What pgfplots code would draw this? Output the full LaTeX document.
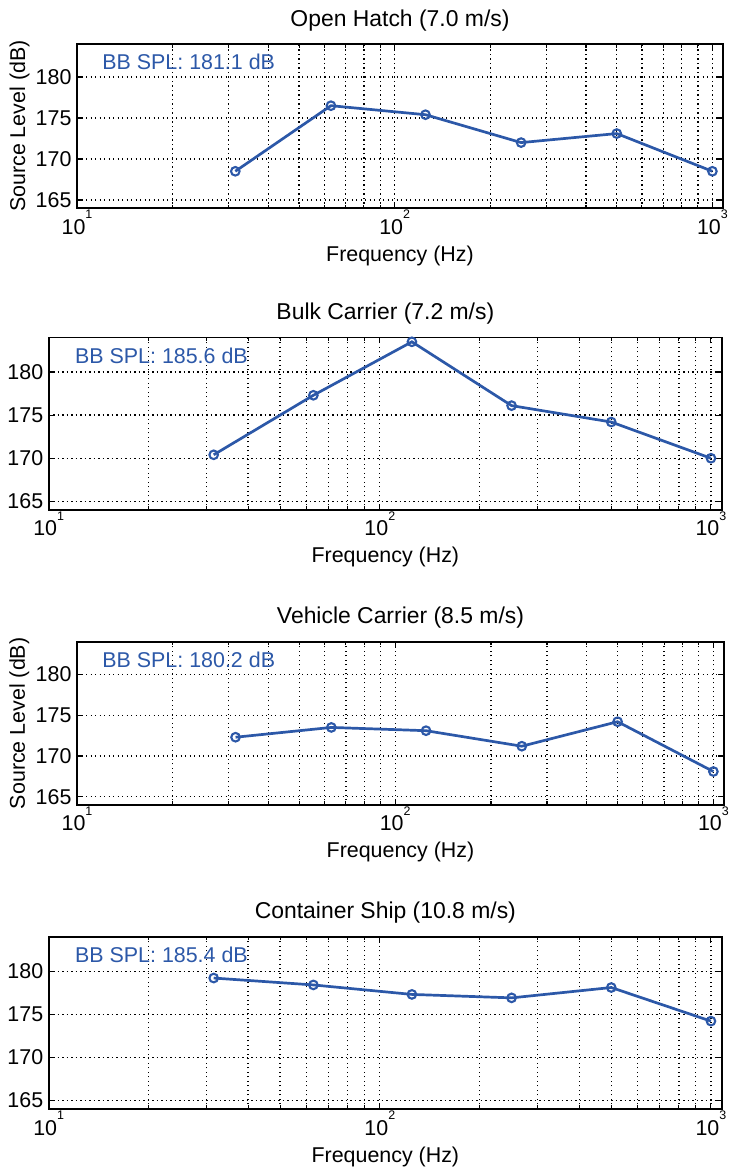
\documentclass[border=0pt]{standalone}
\usepackage{fontspec}
\setmainfont{Liberation Sans}
\usepackage{pgfplots}
\pgfplotsset{compat=1.18}

\definecolor{lineblue}{RGB}{44,88,168}
% decade tick labels: 10 with a raised exponent
\newcommand\dec[1]{10\raisebox{15.5bp}{\fontsize{12.5}{12.5}\selectfont #1}}

\tikzset{
  spl line/.style={lineblue, line width=2.7bp, mark=o, mark size=4.3bp,
    mark options={line width=2.1bp, solid}},
  spl note/.style={anchor=west, inner sep=0pt, text=lineblue, font=\fontsize{21.5}{24}\selectfont},
}

% settings shared by all four panels
\pgfplotsset{
  scale only axis,
  xmin=10, xmax=1080, ymin=164, ymax=184,
  xtick={10,100,1000},
  xticklabels={\dec{1},\dec{2},\dec{3}},
  minor xtick={20,30,40,50,60,70,80,90,200,300,400,500,600,700,800,900},
  ytick={165,170,175,180},
  yticklabels={165,170,175,180},
  tick align=inside, xtick pos=both, ytick pos=both,
  major tick length=6bp, minor tick length=3.5bp,
  every tick/.append style={black, line width=1.1bp},
  axis line style={black, line width=1.7bp},
  xmajorgrids, xminorgrids, ymajorgrids,
  major grid style={black, line width=1.3bp, dash pattern=on 1.3bp off 3.2bp},
  minor grid style={black, line width=1.3bp, dash pattern=on 1.3bp off 3.2bp},
  tick label style={font=\fontsize{21.5}{24}\selectfont},
  label style={font=\fontsize{21.5}{24}\selectfont},
  title style={font=\fontsize{23}{26}\selectfont, at={(axis description cs:0.5,1)}, anchor=base, yshift=12bp},
  xlabel style={at={(axis description cs:0.5,0)}, anchor=base, yshift=-53bp},
  xticklabel style={anchor=base, yshift=-26bp},
  yticklabel style={anchor=east, xshift=-2bp},
  ylabel style={at={(axis description cs:-0.089,0.5)}, anchor=center},
}

\begin{document}
\begin{tikzpicture}
\useasboundingbox (0,0) rectangle (731bp,1170bp);

% Open Hatch
\begin{semilogxaxis}[anchor=south west, at={(77bp,961.8bp)}, width=646bp, height=164bp,
  title={Open Hatch (7.0 m/s)}, xlabel={Frequency (Hz)}, ylabel={Source Level (dB)}]
\addplot[spl line] table {
f L
31.5 168.5
63 176.5
125 175.4
250 172.0
500 173.1
1000 168.5
};
\node[spl note] at (axis cs:12,181.8) {BB SPL: 181.1 dB};
\end{semilogxaxis}

% Bulk Carrier
\begin{semilogxaxis}[anchor=south west, at={(48.7bp,660bp)}, width=673.3bp, height=172.5bp,
  title={Bulk Carrier (7.2 m/s)}, xlabel={Frequency (Hz)}]
\addplot[spl line] table {
f L
31.5 170.4
63 177.3
125 183.5
250 176.1
500 174.2
1000 170.0
};
\node[spl note] at (axis cs:12,181.9) {BB SPL: 185.6 dB};
\end{semilogxaxis}

% Vehicle Carrier
\begin{semilogxaxis}[anchor=south west, at={(77bp,365bp)}, width=647bp, height=163.3bp,
  title={Vehicle Carrier (8.5 m/s)}, xlabel={Frequency (Hz)}, ylabel={Source Level (dB)}]
\addplot[spl line] table {
f L
31.5 172.3
63 173.5
125 173.1
250 171.2
500 174.2
1000 168.1
};
\node[spl note] at (axis cs:12,181.8) {BB SPL: 180.2 dB};
\end{semilogxaxis}

% Container Ship
\begin{semilogxaxis}[anchor=south west, at={(48.7bp,61bp)}, width=673.3bp, height=172.3bp,
  title={Container Ship (10.8 m/s)}, xlabel={Frequency (Hz)}]
\addplot[spl line] table {
f L
31.5 179.2
63 178.4
125 177.3
250 176.9
500 178.1
1000 174.2
};
\node[spl note] at (axis cs:12,181.9) {BB SPL: 185.4 dB};
\end{semilogxaxis}
\end{tikzpicture}
\end{document}
